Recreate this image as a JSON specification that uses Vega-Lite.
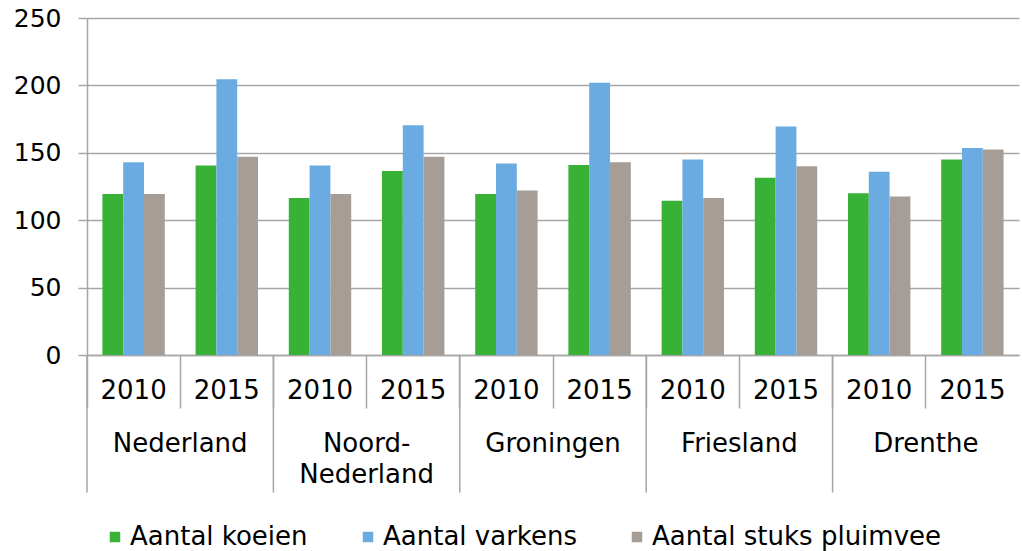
{
  "$schema": "https://vega.github.io/schema/vega-lite/v6.json",
  "width": 932,
  "height": 337,
  "autosize": {"type": "none"},
  "padding": {"left": 87, "top": 18, "right": 3, "bottom": 196},
  "config": {
    "font": "DejaVu Sans",
    "view": {"stroke": null},
    "text": {"lineBreak": "\n"}
  },
  "datasets": {
    "bars": [
      {"key": "Nederland|2010", "serie": "Aantal koeien", "waarde": 119.5},
      {"key": "Nederland|2010", "serie": "Aantal varkens", "waarde": 143},
      {"key": "Nederland|2010", "serie": "Aantal stuks pluimvee", "waarde": 119.5},
      {"key": "Nederland|2015", "serie": "Aantal koeien", "waarde": 140.5},
      {"key": "Nederland|2015", "serie": "Aantal varkens", "waarde": 204.5},
      {"key": "Nederland|2015", "serie": "Aantal stuks pluimvee", "waarde": 147},
      {"key": "Noord-Nederland|2010", "serie": "Aantal koeien", "waarde": 116.5},
      {"key": "Noord-Nederland|2010", "serie": "Aantal varkens", "waarde": 140.5},
      {"key": "Noord-Nederland|2010", "serie": "Aantal stuks pluimvee", "waarde": 119.5},
      {"key": "Noord-Nederland|2015", "serie": "Aantal koeien", "waarde": 136.5},
      {"key": "Noord-Nederland|2015", "serie": "Aantal varkens", "waarde": 170.5},
      {"key": "Noord-Nederland|2015", "serie": "Aantal stuks pluimvee", "waarde": 147},
      {"key": "Groningen|2010", "serie": "Aantal koeien", "waarde": 119.5},
      {"key": "Groningen|2010", "serie": "Aantal varkens", "waarde": 142},
      {"key": "Groningen|2010", "serie": "Aantal stuks pluimvee", "waarde": 122},
      {"key": "Groningen|2015", "serie": "Aantal koeien", "waarde": 141},
      {"key": "Groningen|2015", "serie": "Aantal varkens", "waarde": 202},
      {"key": "Groningen|2015", "serie": "Aantal stuks pluimvee", "waarde": 143},
      {"key": "Friesland|2010", "serie": "Aantal koeien", "waarde": 114.5},
      {"key": "Friesland|2010", "serie": "Aantal varkens", "waarde": 145},
      {"key": "Friesland|2010", "serie": "Aantal stuks pluimvee", "waarde": 116.5},
      {"key": "Friesland|2015", "serie": "Aantal koeien", "waarde": 131.5},
      {"key": "Friesland|2015", "serie": "Aantal varkens", "waarde": 169.5},
      {"key": "Friesland|2015", "serie": "Aantal stuks pluimvee", "waarde": 140},
      {"key": "Drenthe|2010", "serie": "Aantal koeien", "waarde": 120},
      {"key": "Drenthe|2010", "serie": "Aantal varkens", "waarde": 136},
      {"key": "Drenthe|2010", "serie": "Aantal stuks pluimvee", "waarde": 117.5},
      {"key": "Drenthe|2015", "serie": "Aantal koeien", "waarde": 145},
      {"key": "Drenthe|2015", "serie": "Aantal varkens", "waarde": 153.5},
      {"key": "Drenthe|2015", "serie": "Aantal stuks pluimvee", "waarde": 152.5}
    ],
    "regions": [
      {"start": "Nederland|2010", "mid": "Nederland|2015", "label": "Nederland"},
      {"start": "Noord-Nederland|2010", "mid": "Noord-Nederland|2015", "label": "Noord-\nNederland"},
      {"start": "Groningen|2010", "mid": "Groningen|2015", "label": "Groningen"},
      {"start": "Friesland|2010", "mid": "Friesland|2015", "label": "Friesland"},
      {"start": "Drenthe|2010", "mid": "Drenthe|2015", "label": "Drenthe"}
    ]
  },
  "layer": [
    {
      "data": {"name": "bars"},
      "mark": {"type": "bar"},
      "encoding": {
        "x": {
          "field": "key",
          "type": "nominal",
          "scale": {
            "domain": ["Nederland|2010", "Nederland|2015", "Noord-Nederland|2010", "Noord-Nederland|2015", "Groningen|2010", "Groningen|2015", "Friesland|2010", "Friesland|2015", "Drenthe|2010", "Drenthe|2015"],
            "paddingInner": 0,
            "paddingOuter": 0
          },
          "axis": {
            "title": null,
            "labelExpr": "split(datum.label, '|')[1]",
            "labelAngle": 0,
            "labelFontSize": 26,
            "labelColor": "#000000",
            "labelPadding": -31,
            "bandPosition": 0,
            "tickSize": 53,
            "tickColor": "#a6a6a6",
            "tickWidth": 1.5,
            "domainColor": "#a6a6a6",
            "domainWidth": 1.5,
            "grid": false
          }
        },
        "xOffset": {
          "field": "serie",
          "type": "nominal",
          "sort": ["Aantal koeien", "Aantal varkens", "Aantal stuks pluimvee"],
          "scale": {"paddingInner": 0, "paddingOuter": 0.74}
        },
        "y": {
          "field": "waarde",
          "type": "quantitative",
          "scale": {"domain": [0, 250], "nice": false},
          "axis": {
            "title": null,
            "values": [0, 50, 100, 150, 200, 250],
            "labelFontSize": 25,
            "labelColor": "#000000",
            "labelPadding": 17,
            "tickSize": 9,
            "tickColor": "#a6a6a6",
            "tickWidth": 1.5,
            "domainColor": "#a6a6a6",
            "domainWidth": 1.5,
            "grid": true,
            "gridColor": "#a6a6a6",
            "gridWidth": 1.5
          }
        },
        "color": {
          "field": "serie",
          "type": "nominal",
          "sort": ["Aantal koeien", "Aantal varkens", "Aantal stuks pluimvee"],
          "scale": {
            "domain": ["Aantal koeien", "Aantal varkens", "Aantal stuks pluimvee"],
            "range": ["#37b237", "#6aace2", "#a59d96"]
          },
          "legend": {
            "title": null,
            "orient": "none",
            "direction": "horizontal",
            "legendX": 15,
            "legendY": 506,
            "symbolType": "square",
            "symbolSize": 110,
            "symbolStrokeWidth": 0,
            "labelFontSize": 26,
            "labelColor": "#000000",
            "labelOffset": 2,
            "columnPadding": 47,
            "labelLimit": 400
          }
        }
      }
    },
    {
      "data": {"name": "regions"},
      "mark": {"type": "rule", "color": "#a6a6a6", "strokeWidth": 1.5},
      "encoding": {
        "x": {"field": "start", "type": "nominal", "bandPosition": 0},
        "y": {"datum": 0, "type": "quantitative"},
        "y2": {"datum": -102}
      }
    },
    {
      "data": {"name": "regions"},
      "mark": {"type": "text", "fontSize": 26, "color": "#000000", "baseline": "alphabetic", "align": "center", "lineHeight": 31},
      "encoding": {
        "x": {"field": "mid", "type": "nominal", "bandPosition": 0},
        "y": {"datum": -72, "type": "quantitative"},
        "text": {"field": "label"}
      }
    }
  ]
}
